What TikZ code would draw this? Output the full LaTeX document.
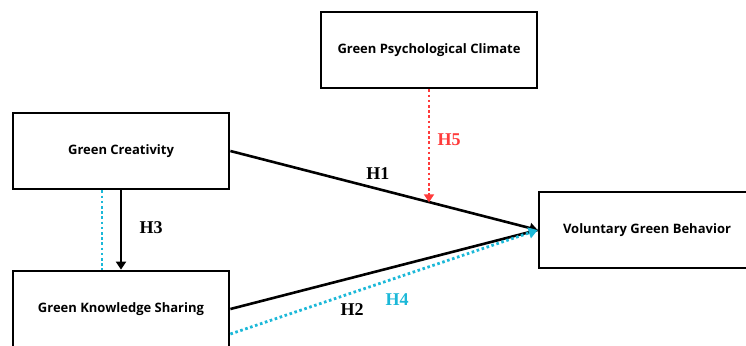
\documentclass[tikz,border=0pt]{standalone}
\usepackage{fontspec}
\usetikzlibrary{positioning, arrows.meta, calc}
\newfontfamily\boxfont{Open Sans}
\newfontfamily\hypfont{Liberation Serif}
\definecolor{hypred}{HTML}{FF3B3B}
\definecolor{hypblue}{HTML}{1BB8D8}

\begin{document}
\begin{tikzpicture}[x=1pt, y=-1pt,
  construct/.style={
    draw, rectangle, line width=2.8pt, fill=white,
    minimum width=216pt, minimum height=76pt,
    font=\boxfont\bfseries\fontsize{13}{15}\selectfont},
  hyp/.style={font=\hypfont\bfseries\fontsize{18}{20}\selectfont},
  path/.style={line width=2.6pt, -{Triangle[length=8pt, width=10pt]}},
  link/.style={line width=2.6pt},
  modpath/.style={line width=2.8pt, hypred, dash pattern=on 2.6pt off 2.6pt,
    -{Triangle[length=8pt, width=10pt]}},
  medpath/.style={line width=2.8pt, hypblue, dash pattern=on 2.6pt off 2.6pt}]

\clip (0,0) rectangle (746,345);

% --- constructs ---
\node[construct] (gc) at (121,151) {Green Creativity};
\node[construct] (gks) at (121,309) {Green Knowledge Sharing};
\node[construct] (gpc) at (429,50) {Green Psychological Climate};
\node[construct] (vgb) at (647,230) {Voluntary Green Behavior};

% --- direct paths ---
\draw[path] (gc.east) -- node[hyp, pos=0.48, above=5pt] {H1} (vgb.west);
\draw[link] (gks.east) -- (vgb.west);
\draw[path] (gc.south) -- (gks.north);
\node[hyp] (h3) at (151,228) {H3};
\node[hyp] (h2) at (352,310) {H2};

% --- mediation (dotted blue) ---
\draw[medpath] ([xshift=-19pt]gc.south) -- ([xshift=-19pt]gks.north);
\draw[medpath, -{Triangle[length=9pt, width=11pt]}] ([yshift=-25pt]gks.east) -- (vgb.west);
\node[hyp, text=hypblue] (h4) at (397,300) {H4};

% --- moderation (dotted red) ---
\coordinate (h5end) at ($(gc.east)!0.649!(vgb.west)$);
\draw[modpath] (gpc.south) -- (gpc.south |- h5end);
\node[hyp, text=hypred] (h5) at (449,140) {H5};
\end{tikzpicture}
\end{document}
